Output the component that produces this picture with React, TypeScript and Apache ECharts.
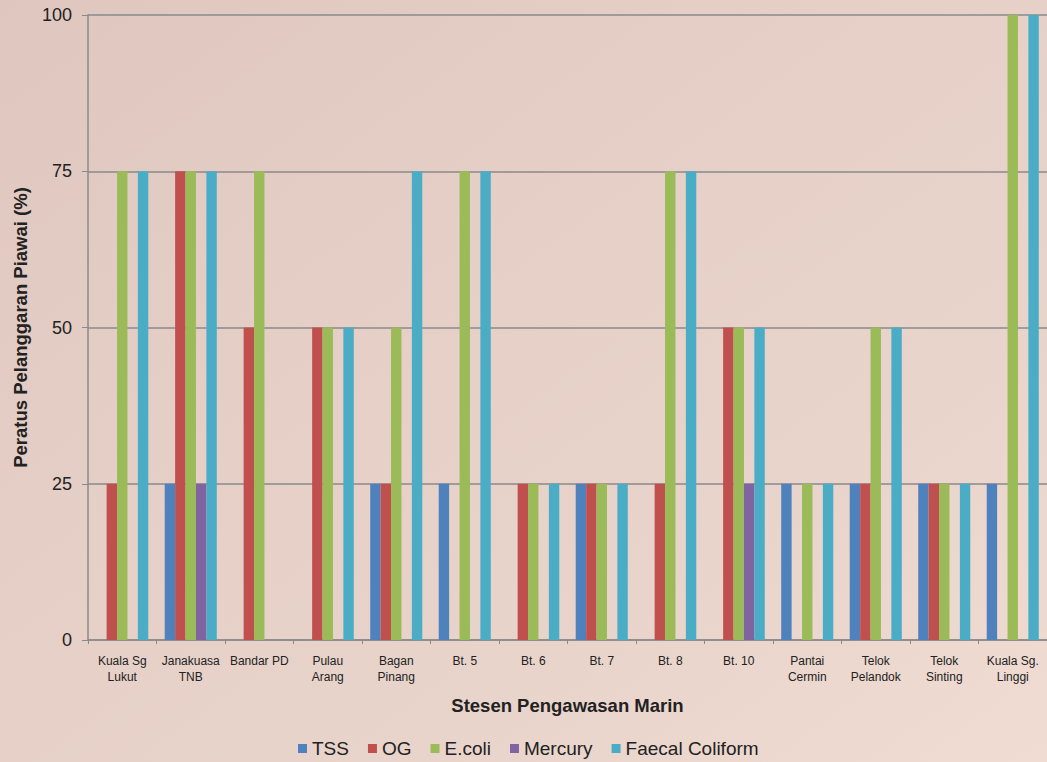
import React, { useEffect, useRef } from "react";
import * as echarts from "echarts";

const categories = [
  "Kuala Sg\nLukut",
  "Janakuasa\nTNB",
  "Bandar PD",
  "Pulau\nArang",
  "Bagan\nPinang",
  "Bt. 5",
  "Bt. 6",
  "Bt. 7",
  "Bt. 8",
  "Bt. 10",
  "Pantai\nCermin",
  "Telok\nPelandok",
  "Telok\nSinting",
  "Kuala Sg.\nLinggi",
];

const tss = [0, 25, 0, 0, 25, 25, 0, 25, 0, 0, 25, 25, 25, 25];
const og = [25, 75, 50, 50, 25, 0, 25, 25, 25, 50, 0, 25, 25, 0];
const ecoli = [75, 75, 75, 50, 50, 75, 25, 25, 75, 50, 25, 50, 25, 100];
const mercury = [0, 25, 0, 0, 0, 0, 0, 0, 0, 25, 0, 0, 0, 0];
const faecal = [75, 75, 0, 50, 75, 75, 25, 25, 75, 50, 25, 50, 25, 100];

const seriesNames = ["TSS", "OG", "E.coli", "Mercury", "Faecal Coliform"];
const seriesColors = ["#4F81BD", "#C0504D", "#9BBB59", "#8064A2", "#4BACC6"];
const seriesData = [tss, og, ecoli, mercury, faecal];

export default function App() {
  const ref = useRef<HTMLDivElement>(null);
  useEffect(() => {
    document.body.style.margin = "0";
    if (!ref.current) return;
    const chart = echarts.init(ref.current, undefined, { renderer: "svg" });
    const font = "'Liberation Sans', Arial, sans-serif";
    chart.setOption({
      animation: false,
      backgroundColor: {
        type: "linear",
        x: 0,
        y: 0,
        x2: 1,
        y2: 1,
        colorStops: [
          { offset: 0, color: "#dfc7bf" },
          { offset: 0.4, color: "#e5cfc7" },
          { offset: 0.7, color: "#e9d4cb" },
          { offset: 1, color: "#f0dcd3" },
        ],
      },
      textStyle: { fontFamily: font },
      grid: { left: 88, right: 0, top: 15, bottom: 122, containLabel: false },
      legend: {
        data: seriesNames,
        left: 293,
        top: 734,
        itemWidth: 9,
        itemHeight: 9,
        itemGap: 19,
        icon: "rect",
        textStyle: { fontSize: 19, color: "#222", fontFamily: font },
      },
      xAxis: {
        type: "category",
        data: categories,
        name: "Stesen Pengawasan Marin",
        nameLocation: "middle",
        nameGap: 56,
        nameTextStyle: { fontSize: 18.5, fontWeight: "bold", color: "#222", fontFamily: font },
        axisLine: { lineStyle: { color: "#8a8a8a", width: 1.5 } },
        axisTick: { show: true, length: 4, lineStyle: { color: "#8a8a8a" } },
        axisLabel: { fontSize: 12, color: "#222", margin: 13, lineHeight: 16, interval: 0 },
      },
      yAxis: {
        type: "value",
        min: 0,
        max: 100,
        interval: 25,
        name: "Peratus Pelanggaran Piawai (%)",
        nameLocation: "middle",
        nameGap: 58,
        nameTextStyle: { fontSize: 18.5, fontWeight: "bold", color: "#222", fontFamily: font },
        axisLine: { show: true, lineStyle: { color: "#8a8a8a", width: 1.5 } },
        axisTick: { show: true, length: 6, lineStyle: { color: "#8a8a8a" } },
        axisLabel: { fontSize: 18, color: "#222", margin: 16 },
        splitLine: { lineStyle: { color: "#8a8a8a", width: 1.5 } },
      },
      series: seriesNames.map((n, i) => ({
        name: n,
        type: "bar",
        data: seriesData[i],
        itemStyle: { color: seriesColors[i] },
        barGap: "0%",
        barCategoryGap: "24%",
      })),
    });
    return () => chart.dispose();
  }, []);
  return <div ref={ref} style={{ width: 1047, height: 762 }} />;
}
